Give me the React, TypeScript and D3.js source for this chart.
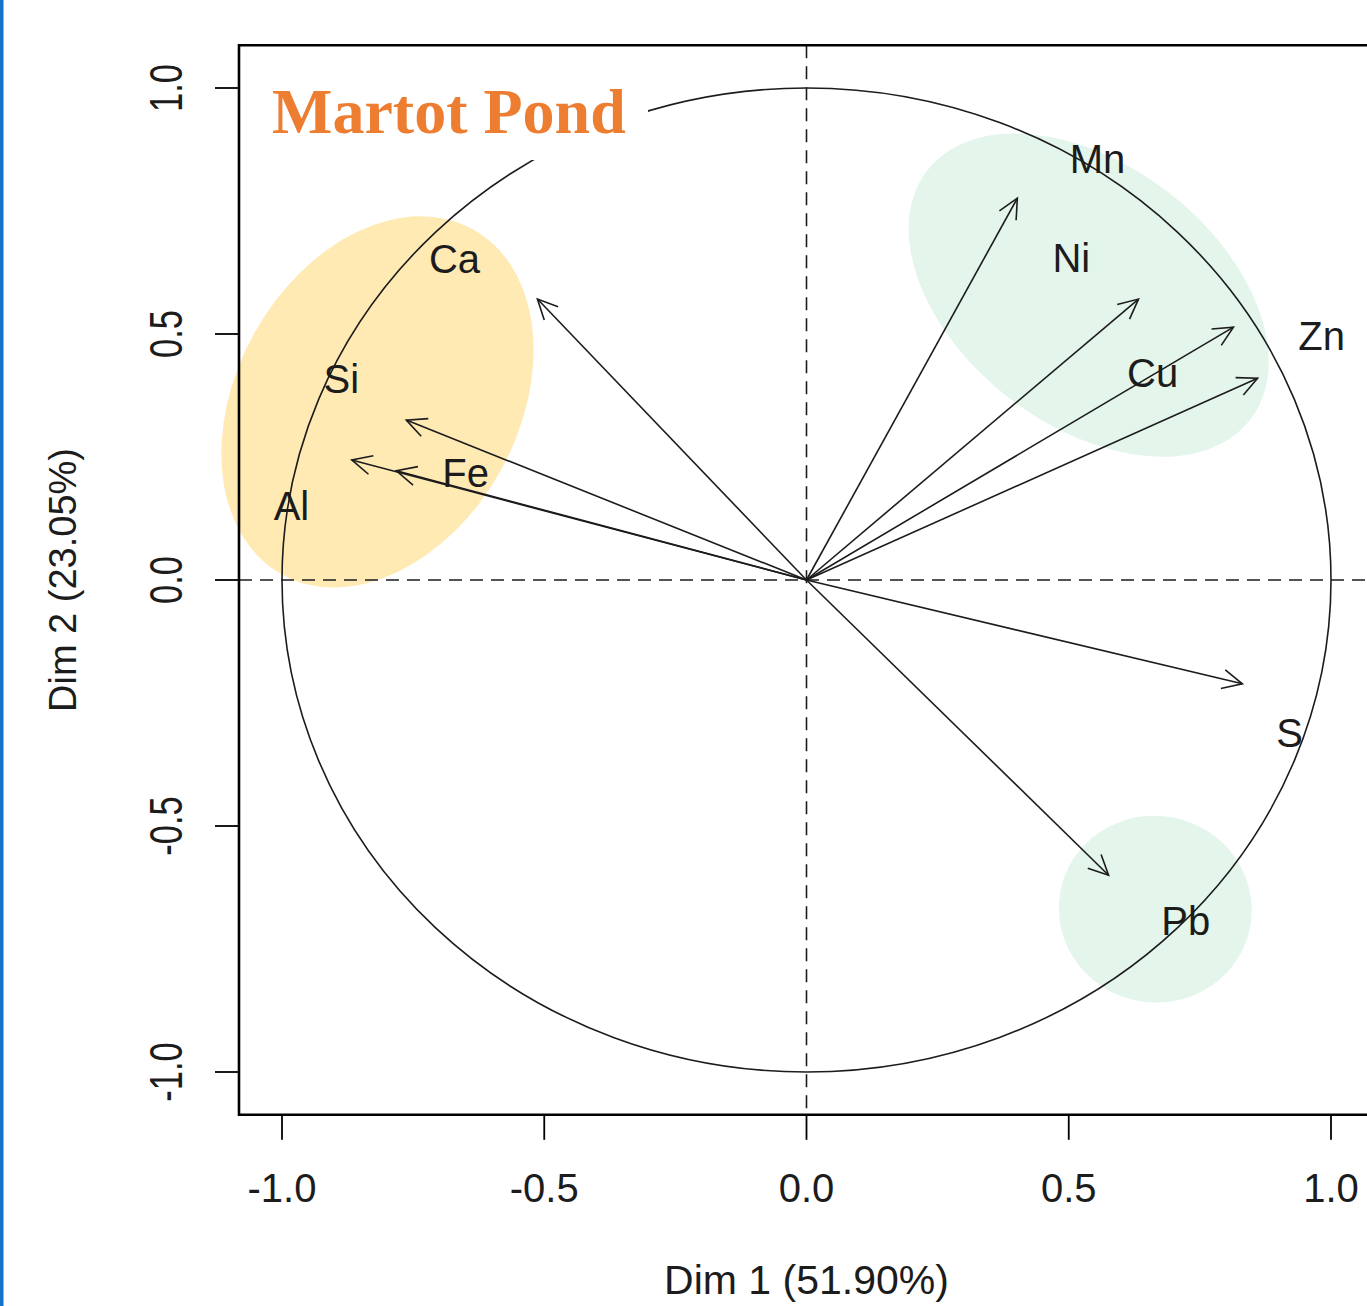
import React from 'react'
import * as d3 from 'd3'

// ---- data (variable coordinates on Dim 1 / Dim 2) ----
const variables = ['Mn', 'Ni', 'Cu', 'Zn', 'S', 'Pb', 'Ca', 'Si', 'Al', 'Fe']
const dim1 = [0.402, 0.633, 0.814, 0.860, 0.831, 0.576, -0.513, -0.763, -0.867, -0.782]
const dim2 = [0.776, 0.571, 0.514, 0.410, -0.211, -0.600, 0.571, 0.325, 0.244, 0.222]

// where the labels sit on the figure (data units)
const labelNames = ['Mn', 'Ni', 'Cu', 'Zn', 'S', 'Pb', 'Ca', 'Si', 'Fe', 'Al']
const labelX = [0.555, 0.505, 0.660, 0.982, 0.921, 0.723, -0.671, -0.887, -0.650, -0.982]
const labelY = [0.856, 0.654, 0.421, 0.496, -0.311, -0.693, 0.652, 0.409, 0.217, 0.150]

// highlighted groups (centre, semi axes in Dim 1 units, tilt in degrees)
const groupCx = [-0.818, 0.538, 0.665]
const groupCy = [0.362, 0.579, -0.669]
const groupA = [0.376, 0.389, 0.184]
const groupB = [0.269, 0.248, 0.178]
const groupTilt = [-61, 37.6, 10]
const groupFill = ['#FFEAB4', '#E4F5EB', '#E4F5EB']

const ticks = [-1, -0.5, 0, 0.5, 1]
const xTitle = 'Dim 1 (51.90%)'
const yTitle = 'Dim 2 (23.05%)'
const title = 'Martot Pond'

const W = 1367
const H = 1306
const sans = "'Liberation Sans', Arial, sans-serif"
const ink = '#1c1c1c'

export default function App() {
    const x = d3.scaleLinear().domain([-1, 1]).range([282, 1331])
    const y = d3.scaleLinear().domain([-1, 1]).range([1072, 88])

    // plot region (R adds ~4% on each side)
    const box = { left: x(-1.082), top: y(1.087), bottom: y(-1.087), right: x(1.082) }
    const kx = x(1) - x(0)

    const arrows = variables.map((v, i) => {
        const x0 = x(0), y0 = y(0)
        const x1 = x(dim1[i]), y1 = y(dim2[i])
        const ang = Math.atan2(y1 - y0, x1 - x0)
        const L = 22, spread = Math.PI / 7
        const h1 = [x1 - L * Math.cos(ang - spread), y1 - L * Math.sin(ang - spread)]
        const h2 = [x1 - L * Math.cos(ang + spread), y1 - L * Math.sin(ang + spread)]
        return { v, x0, y0, x1, y1, h1, h2 }
    })

    return (
        <svg width={W} height={H} style={{ position: 'absolute', left: 0, top: 0, background: '#fff' }}>
            <rect x={0} y={0} width={W} height={H} fill="#fff" />
            {/* blue edge of the slide */}
            <rect x={0} y={0} width={3.5} height={H} fill="#1272C9" />

            {/* group shading */}
            {groupCx.map((c, i) => (
                <ellipse
                    key={'g' + i}
                    cx={0}
                    cy={0}
                    rx={groupA[i] * kx}
                    ry={groupB[i] * kx}
                    transform={`translate(${x(c)},${y(groupCy[i])}) rotate(${groupTilt[i]})`}
                    fill={groupFill[i]}
                />
            ))}

            {/* dashed axes through origin */}
            <line x1={box.left} x2={W} y1={y(0)} y2={y(0)} stroke={ink} strokeWidth={1.6} strokeDasharray="13 8" />
            <line x1={x(0)} x2={x(0)} y1={box.top} y2={box.bottom} stroke={ink} strokeWidth={1.6} strokeDasharray="13 8" />

            {/* correlation circle */}
            <ellipse cx={x(0)} cy={y(0)} rx={x(1) - x(0)} ry={y(0) - y(1)} fill="none" stroke={ink} strokeWidth={1.6} />

            {/* variable arrows */}
            {arrows.map(a => (
                <g key={a.v} stroke={ink} strokeWidth={1.6} fill="none">
                    <line x1={a.x0} y1={a.y0} x2={a.x1} y2={a.y1} />
                    <polyline points={`${a.h1[0]},${a.h1[1]} ${a.x1},${a.y1} ${a.h2[0]},${a.h2[1]}`} />
                </g>
            ))}

            {/* variable labels */}
            {labelNames.map((n, i) => (
                <text
                    key={'l' + n}
                    x={x(labelX[i])}
                    y={y(labelY[i])}
                    dy="0.35em"
                    textAnchor="middle"
                    fontFamily={sans}
                    fontSize={40}
                    fill={ink}
                >
                    {n}
                </text>
            ))}

            {/* title with its white backing */}
            <rect x={262} y={68} width={386} height={92} fill="#fff" />
            <text x={272} y={133} fontFamily="'Liberation Serif', 'Times New Roman', serif" fontWeight="bold" fontSize={64} fill="#ED7D31">
                {title}
            </text>

            {/* frame */}
            <path
                d={`M${W + 5},${box.top} H${box.left} V${box.bottom} H${W + 5}`}
                fill="none"
                stroke="#000"
                strokeWidth={2.6}
            />

            {/* x axis */}
            {ticks.map(t => (
                <g key={'x' + t}>
                    <line x1={x(t)} x2={x(t)} y1={box.bottom} y2={box.bottom + 25} stroke="#000" strokeWidth={1.8} />
                    <text x={x(t)} y={1202} textAnchor="middle" fontFamily={sans} fontSize={40} fill={ink}>
                        {t.toFixed(1)}
                    </text>
                </g>
            ))}
            <text x={x(0)} y={1294} textAnchor="middle" fontFamily={sans} fontSize={41} fill={ink}>
                {xTitle}
            </text>

            {/* y axis */}
            {ticks.map(t => (
                <g key={'y' + t}>
                    <line x1={box.left - 24} x2={box.left} y1={y(t)} y2={y(t)} stroke="#000" strokeWidth={1.8} />
                    <text
                        transform={`translate(182,${y(t)}) rotate(-90) scale(1,1.36)`}
                        textAnchor="middle"
                        fontFamily={sans}
                        fontSize={34.5}
                        fill={ink}
                    >
                        {t.toFixed(1)}
                    </text>
                </g>
            ))}
            <text
                transform={`translate(76,${y(0)}) rotate(-90)`}
                textAnchor="middle"
                fontFamily={sans}
                fontSize={38}
                fill={ink}
            >
                {yTitle}
            </text>
        </svg>
    )
}
